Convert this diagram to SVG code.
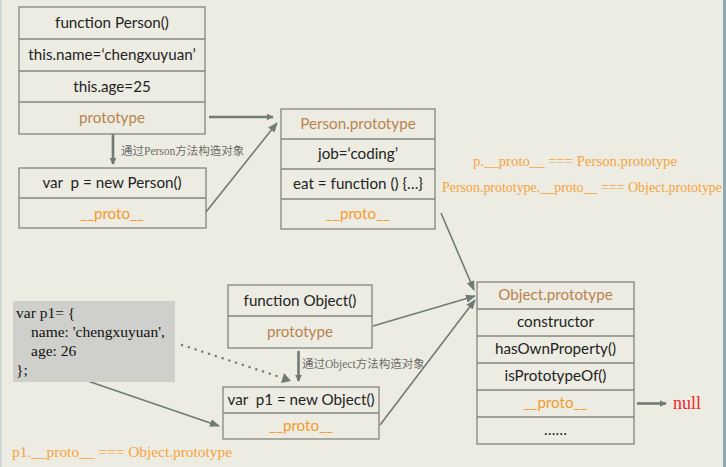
<svg xmlns="http://www.w3.org/2000/svg" width="726" height="467" viewBox="0 0 726 467">
<defs>
<style>
.box{fill:none;stroke:#838680;stroke-width:1.3}
.t{font-family:Lato,"Noto Sans",sans-serif;font-size:15.2px;fill:#222;text-anchor:middle;white-space:pre}
.h{fill:#B8834F}
.pr{fill:#F59A2C}
.lbl{font-family:"Liberation Serif","Noto Sans CJK SC",serif;font-size:11.5px;fill:#6d6d6a}
.note{font-family:"Liberation Serif",serif;font-size:14px;fill:#F5A340}
.code{font-family:"Liberation Serif",serif;font-size:15.5px;fill:#111}
.ln{stroke:#6F7B74;stroke-width:1.6;fill:none}
.thick{stroke:#6F7B74;stroke-width:2.6;fill:none}
</style>
<marker id="ah" viewBox="0 0 10 10" refX="9" refY="5" markerWidth="7" markerHeight="7" markerUnits="userSpaceOnUse" orient="auto"><path d="M0,0 L10,5 L0,10 z" fill="#6F7B74"/></marker>
<marker id="ahs" viewBox="0 0 10 10" refX="9" refY="5" markerWidth="10" markerHeight="10" markerUnits="userSpaceOnUse" orient="auto"><path d="M0,1 L10,5 L0,9 z" fill="#6F7B74"/></marker>
</defs>
<rect width="726" height="467" fill="#EDECE2"/>
<rect x="723" y="0" width="3" height="467" fill="#8FAAB5"/>
<rect x="0" y="0" width="1.5" height="467" fill="#C9D3D3"/>

<g id="connectors">
<line class="thick" x1="209" y1="117" x2="273" y2="117" marker-end="url(#ah)"/>
<line class="thick" x1="113" y1="134" x2="113" y2="164" marker-end="url(#ah)"/>
<line class="ln" x1="206" y1="212" x2="277" y2="123" marker-end="url(#ahs)"/>
<line class="ln" x1="441" y1="213" x2="474" y2="290" marker-end="url(#ahs)"/>
<line class="ln" x1="373" y1="326" x2="475" y2="296" marker-end="url(#ahs)"/>
<line class="ln" x1="380" y1="425" x2="475" y2="300" marker-end="url(#ahs)"/>
<line class="thick" x1="298.5" y1="351" x2="298.5" y2="381" marker-end="url(#ah)"/>
<line stroke="#6F7B74" stroke-width="2.4" stroke-dasharray="0.1,7" stroke-linecap="round" x1="182" y1="345" x2="283" y2="378"/>
<path d="M291,381 L281,383 L284,373 z" fill="#6F7B74"/>
<line class="ln" x1="76" y1="377" x2="219" y2="426" marker-end="url(#ahs)"/>
<line class="thick" x1="637" y1="403.5" x2="666" y2="403.5" marker-end="url(#ah)"/>
</g>

<g id="person-fn">
<rect class="box" x="19" y="7" width="186" height="127"/>
<line class="box" x1="19" y1="39" x2="205" y2="39"/>
<line class="box" x1="19" y1="71" x2="205" y2="71"/>
<line class="box" x1="19" y1="102" x2="205" y2="102"/>
<text class="t" x="112" y="28">function Person()</text>
<text class="t" x="112" y="60">this.name=‘chengxuyuan’</text>
<text class="t" x="112" y="92">this.age=25</text>
<text class="t h" x="112" y="123">prototype</text>
</g>
<text id="lbl-person" class="lbl" x="121" y="155">通过Person方法构造对象</text>

<g id="person-inst">
<rect class="box" x="19" y="168" width="187" height="60"/>
<line class="box" x1="19" y1="198" x2="206" y2="198"/>
<text class="t" x="112" y="188" xml:space="preserve">var  p = new Person()</text>
<text class="t pr" x="112" y="219">__proto__</text>
</g>

<g id="person-proto">
<rect class="box" x="281" y="109" width="154" height="120"/>
<line class="box" x1="281" y1="139" x2="435" y2="139"/>
<line class="box" x1="281" y1="169" x2="435" y2="169"/>
<line class="box" x1="281" y1="199" x2="435" y2="199"/>
<text class="t h" x="358" y="129">Person.prototype</text>
<text class="t" x="358" y="159">job=‘coding’</text>
<text class="t" x="358" y="189">eat = function () {…}</text>
<text class="t pr" x="358" y="219">__proto__</text>
</g>

<g id="notes">
<text class="note" x="473" y="166" textLength="204" lengthAdjust="spacingAndGlyphs">p.__proto__ === Person.prototype</text>
<text class="note" x="442" y="192" textLength="280" lengthAdjust="spacingAndGlyphs">Person.prototype.__proto__ === Object.prototype</text>
<text class="note" x="12" y="457" font-size="15" textLength="220" lengthAdjust="spacingAndGlyphs">p1.__proto__ === Object.prototype</text>
</g>

<g id="object-fn">
<rect class="box" x="228" y="285" width="144" height="63"/>
<line class="box" x1="228" y1="316" x2="372" y2="316"/>
<text class="t" x="300" y="306">function Object()</text>
<text class="t h" x="300" y="337">prototype</text>
</g>
<text id="lbl-object" class="lbl" x="302" y="368">通过Object方法构造对象</text>

<g id="literal">
<rect x="13" y="301" width="162" height="81" fill="#CFCFCB"/>
<text class="code" x="16" y="318">var p1= {</text>
<text class="code" x="31" y="337">name: 'chengxuyuan',</text>
<text class="code" x="31" y="356">age: 26</text>
<text class="code" x="16" y="375">};</text>
</g>

<g id="object-inst">
<rect class="box" x="223" y="387" width="156" height="52"/>
<line class="box" x1="223" y1="413" x2="379" y2="413"/>
<text class="t" x="301" y="405" xml:space="preserve">var  p1 = new Object()</text>
<text class="t pr" x="301" y="431">__proto__</text>
</g>

<g id="object-proto">
<rect class="box" x="477" y="282" width="157" height="162"/>
<line class="box" x1="477" y1="309" x2="634" y2="309"/>
<line class="box" x1="477" y1="336" x2="634" y2="336"/>
<line class="box" x1="477" y1="363" x2="634" y2="363"/>
<line class="box" x1="477" y1="390" x2="634" y2="390"/>
<line class="box" x1="477" y1="417" x2="634" y2="417"/>
<text class="t h" x="555.5" y="300">Object.prototype</text>
<text class="t" x="555.5" y="327">constructor</text>
<text class="t" x="555.5" y="354">hasOwnProperty()</text>
<text class="t" x="555.5" y="381">isPrototypeOf()</text>
<text class="t pr" x="555.5" y="408">__proto__</text>
<text class="t" x="555.5" y="435">……</text>
</g>

<text id="null" x="673" y="409" font-family="Liberation Serif,serif" font-size="18" fill="#F0262A">null</text>
</svg>
